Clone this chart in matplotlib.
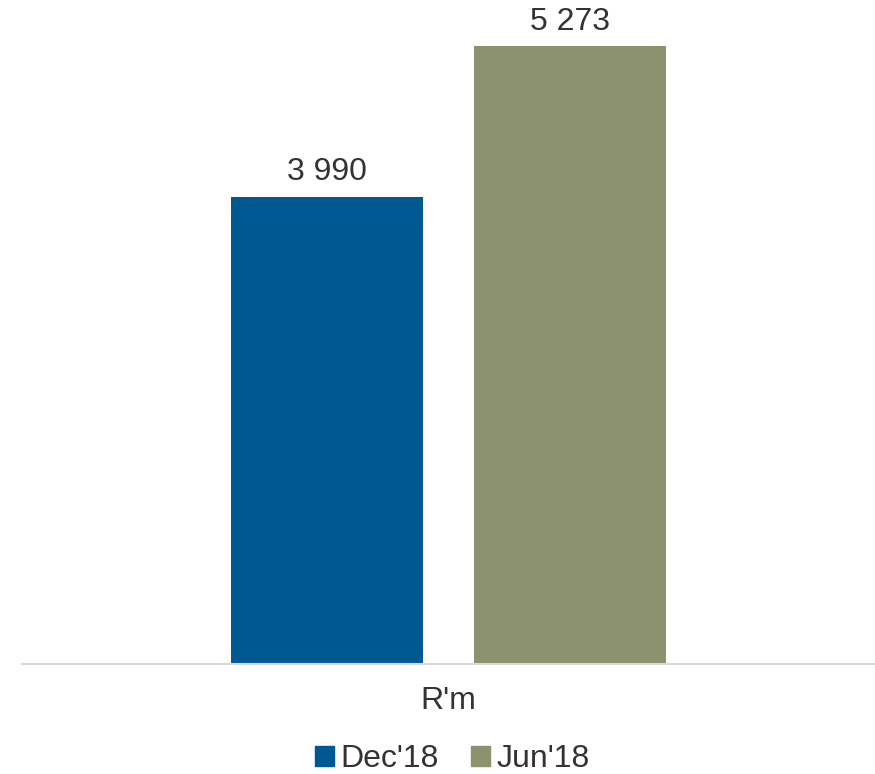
import matplotlib.pyplot as plt
from matplotlib.patches import Patch
import numpy as np

plt.rcParams['font.family'] = ['Liberation Sans', 'DejaVu Sans']

# Data
categories = ["R'm"]
series = ["Dec'18", "Jun'18"]
values = [[3990], [5273]]
labels = ["3 990", "5 273"]
colors = ["#005891", "#8B926D"]
text_color = "#333333"

fig = plt.figure(figsize=(8.75, 7.74), dpi=100)
ax = fig.add_axes([22 / 875, 110 / 774, 853 / 875, 664 / 774])

x = np.arange(len(categories))
width = 0.225
offsets = [-0.1424, 0.1419]

for vals, lab, col, off, name in zip(values, labels, colors, offsets, series):
    bars = ax.bar(x + off, vals, width, color=col, label=name)
    for b in bars:
        ax.annotate(lab, (b.get_x() + b.get_width() / 2, b.get_height()),
                    xytext=(0, 7), textcoords='offset points',
                    ha='center', va='bottom', fontsize=23, color=text_color)

ax.set_xlim(-0.5, 0.5)
ax.set_ylim(0, 5670)
ax.set_xticks(x)
ax.set_xticklabels(categories, fontsize=23, color=text_color)
ax.tick_params(axis='x', length=0, pad=16)
ax.set_yticks([])
for s in ['top', 'right', 'left']:
    ax.spines[s].set_visible(False)
ax.spines['bottom'].set_color('#D9D9D9')
ax.spines['bottom'].set_linewidth(1.5)

handles = [Patch(color=c, label=n) for c, n in zip(colors, series)]
fig.legend(handles=handles, loc='center', bbox_to_anchor=(0.517, 1 - 759 / 774),
           ncol=2, frameon=False, fontsize=23, handlelength=0.6, handleheight=0.6,
           handletextpad=0.2, columnspacing=1.0, labelcolor=text_color,
           borderaxespad=0, borderpad=0)

fig.savefig('out.png', dpi=100)
